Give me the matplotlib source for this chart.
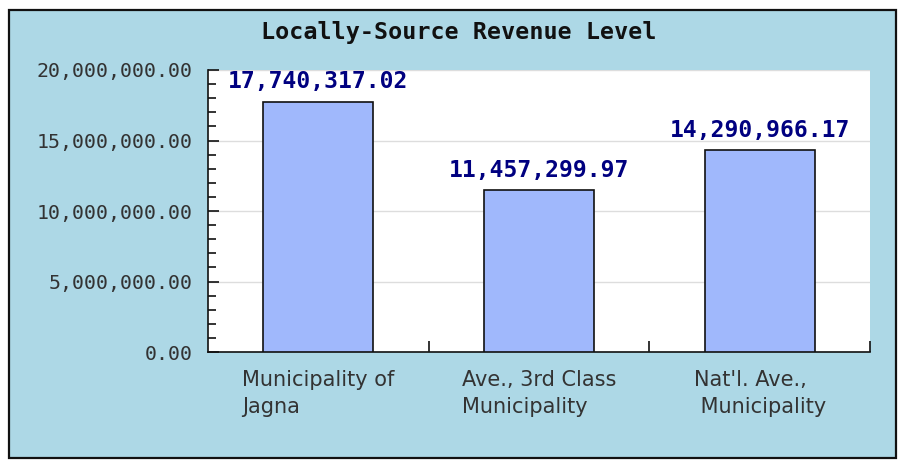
import matplotlib.pyplot as plt
from matplotlib.patches import Rectangle
from matplotlib.ticker import MultipleLocator, FuncFormatter

#----- DATA -----
categories = ['Municipality of\nJagna', 'Ave., 3rd Class\nMunicipality', "Nat'l. Ave.,\n Municipality"]
revenue = [17740317.02, 11457299.97, 14290966.17]
title = 'Locally-Source Revenue Level'

#----- STYLE -----
bg = '#ADD8E6'
bar_color = '#A0B8FC'
label_color = '#000080'

fig = plt.figure(figsize=(8.99, 4.62), dpi=100)
fig.patch.set_facecolor('white')
# light blue panel with black frame
fig.patches.append(Rectangle((9/899, 1-458/462), 887/899, 448/462, transform=fig.transFigure,
                             facecolor=bg, edgecolor='#111111', linewidth=1.6, zorder=-1))

ax = fig.add_axes([208/899, 1-352/462, 662/899, 282/462])
ax.set_zorder(1)
ax.set_facecolor('white')

x = range(len(categories))
ax.bar(x, revenue, width=0.5, color=bar_color, edgecolor='#111111', linewidth=1.2, zorder=3)
for i, v in zip(x, revenue):
    ax.text(i, v + 600000, '{:,.2f}'.format(v), ha='center', va='bottom', color=label_color,
            fontsize=16.6, fontweight='bold', family='DejaVu Sans Mono')

ax.set_xlim(-0.5, len(categories) - 0.5)
ax.set_ylim(0, 20000000)
ax.yaxis.set_major_locator(MultipleLocator(5000000))
ax.yaxis.set_minor_locator(MultipleLocator(1000000))
ax.yaxis.set_major_formatter(FuncFormatter(lambda v, p: '{:,.2f}'.format(v)))
ax.grid(axis='y', color='#DDDDDD', linewidth=1, zorder=0)

ax.set_xticks([i + 0.5 for i in x])
ax.set_xticklabels([])
ax.set_xticks(list(x), minor=True)
ax.set_xticklabels(categories, minor=True, fontsize=15, color='#333333', ha='center',
                   multialignment='left', linespacing=1.45)
ax.tick_params(axis='x', which='major', direction='in', length=8, width=1.2, color='#111111')
ax.tick_params(axis='x', which='minor', length=0, pad=13)
ax.tick_params(axis='y', which='major', direction='in', length=8, width=1.2, color='#111111', pad=11,
               labelsize=14.3, labelcolor='#333333')
ax.tick_params(axis='y', which='minor', direction='in', length=5.5, width=1.2, color='#111111')
for lab in ax.get_yticklabels():
    lab.set_family('DejaVu Sans Mono')

ax.spines['top'].set_visible(False)
ax.spines['right'].set_visible(False)
ax.spines['left'].set_color('#111111')
ax.spines['bottom'].set_color('#111111')
ax.spines['left'].set_linewidth(1.2)
ax.spines['bottom'].set_linewidth(1.2)

fig.text(459/899, 1-32/462, title, ha='center', va='center', fontsize=16.8, fontweight='bold',
         family='DejaVu Sans Mono', color='#111111')

plt.savefig('out.png', dpi=100)
